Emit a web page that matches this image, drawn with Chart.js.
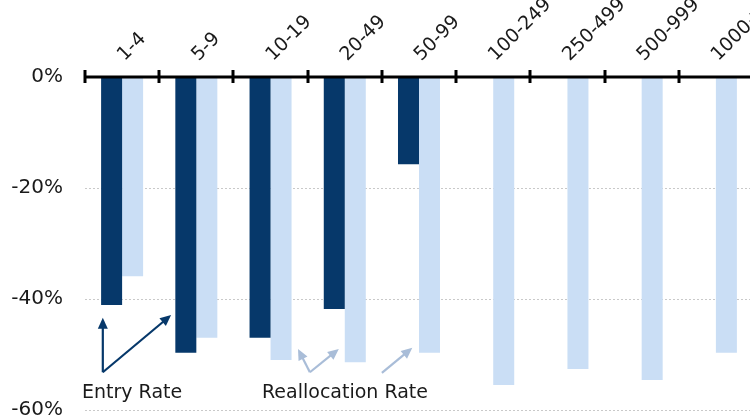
<!DOCTYPE html>
<html>
<head>
<meta charset="utf-8">
<script src="https://cdn.jsdelivr.net/npm/chart.js@4"></script>
<style>
  html, body { margin: 0; padding: 0; background: #fff; overflow: hidden; }
  #wrap { width: 770px; height: 444px; }
</style>
</head>
<body>
<div id="wrap"><canvas id="size-chart" width="770" height="444"></canvas></div>
<script>
// firm size classes and rate changes (percent)
var sizeClasses = ['1-4', '5-9', '10-19', '20-49', '50-99', '100-249', '250-499', '500-999', '1000+'];
var entryRate = [-41.1, -49.7, -47.0, -41.8, -15.7, null, null, null, null];
var reallocationRate = [-35.9, -47.0, -51.0, -51.4, -49.7, -55.5, -52.6, -54.6, -49.7];
var yTicks = [0, -20, -40, -60];

var navy = '#06386a';
var lightBlue = '#cadef5';
var arrowGrey = '#a9bdd8';
var fontFamily = '"DejaVu Sans", sans-serif';

// annotation anchors in data units (category index, percent)
var notes = [
	{ text: 'Entry Rate', color: navy, label: [-0.54, -56.9],
	  arrows: [[[-0.26, -53.2], [-0.26, -43.4]], [[-0.26, -53.2], [0.66, -42.9]]] },
	{ text: 'Reallocation Rate', color: arrowGrey, label: [1.885, -56.9],
	  arrows: [[[2.53, -53.2], [2.37, -49.0]], [[2.53, -53.2], [2.92, -49.0]], [[3.50, -53.3], [3.91, -48.8]]] }
];

function drawArrow(ctx, x1, y1, x2, y2, color) {
	var ang = Math.atan2(y2 - y1, x2 - x1);
	var head = 11, half = 5;
	ctx.strokeStyle = color;
	ctx.fillStyle = color;
	ctx.lineWidth = 2.2;
	ctx.beginPath();
	ctx.moveTo(x1, y1);
	ctx.lineTo(x2 - Math.cos(ang) * head * 0.8, y2 - Math.sin(ang) * head * 0.8);
	ctx.stroke();
	ctx.beginPath();
	ctx.moveTo(x2, y2);
	ctx.lineTo(x2 - Math.cos(ang) * head - Math.sin(ang) * half, y2 - Math.sin(ang) * head + Math.cos(ang) * half);
	ctx.lineTo(x2 - Math.cos(ang) * head + Math.sin(ang) * half, y2 - Math.sin(ang) * head - Math.cos(ang) * half);
	ctx.closePath();
	ctx.fill();
}

var extras = {
	id: 'extras',
	afterDraw: function (chart) {
		var ctx = chart.ctx;
		var xs = chart.scales.x, ys = chart.scales.y;
		var top = chart.chartArea.top;
		ctx.save();
		// tick marks crossing the zero line at category boundaries
		ctx.strokeStyle = '#000';
		ctx.lineWidth = 3;
		for (var i = 0; i < sizeClasses.length; i++) {
			var px = Math.round(xs.getPixelForValue(i - 0.5));
			ctx.beginPath();
			ctx.moveTo(px, top - 7);
			ctx.lineTo(px, top + 6);
			ctx.stroke();
		}
		ctx.beginPath();
		ctx.moveTo(chart.chartArea.left, top);
		ctx.lineTo(chart.width, top);
		ctx.stroke();

		notes.forEach(function (n) {
			n.arrows.forEach(function (a) {
				drawArrow(ctx, xs.getPixelForValue(a[0][0]), ys.getPixelForValue(a[0][1]),
					xs.getPixelForValue(a[1][0]), ys.getPixelForValue(a[1][1]), n.color);
			});
			ctx.fillStyle = '#1a1a1a';
			ctx.font = '19px ' + fontFamily;
			ctx.textAlign = 'left';
			ctx.textBaseline = 'middle';
			ctx.fillText(n.text, xs.getPixelForValue(n.label[0]), ys.getPixelForValue(n.label[1]));
		});
		ctx.restore();
	}
};

new Chart('size-chart', {
	type: 'bar',
	data: {
		labels: sizeClasses,
		datasets: [
			{ label: 'Entry Rate', data: entryRate, backgroundColor: navy },
			{ label: 'Reallocation Rate', data: reallocationRate, backgroundColor: lightBlue }
		]
	},
	options: {
		responsive: false,
		animation: false,
		devicePixelRatio: 1,
		layout: { padding: { top: 0, right: 17, bottom: 0, left: 0 } },
		categoryPercentage: 0.566,
		barPercentage: 1,
		plugins: { legend: { display: false }, tooltip: { enabled: false } },
		scales: {
			x: {
				position: 'top',
				grid: { display: false },
				border: { display: false },
				ticks: {
					minRotation: 45,
					maxRotation: 45,
					padding: 3,
					labelOffset: 15,
					color: '#1a1a1a',
					font: { family: fontFamily, size: 19 }
				},
				afterFit: function (s) { s.height = 77; }
			},
			y: {
				min: -60,
				max: 0,
				afterBuildTicks: function (s) { s.ticks = yTicks.map(function (v) { return { value: v }; }); },
				grid: { color: '#c9c9c9', lineWidth: 1, drawTicks: false },
				border: { display: false, dash: [2, 2] },
				ticks: {
					padding: 22,
					color: '#1a1a1a',
					font: { family: fontFamily, size: 20 },
					callback: function (v) { return v + '%'; }
				},
				afterFit: function (s) { s.width = 85; }
			}
		}
	},
	plugins: [extras]
});
</script>
</body>
</html>
